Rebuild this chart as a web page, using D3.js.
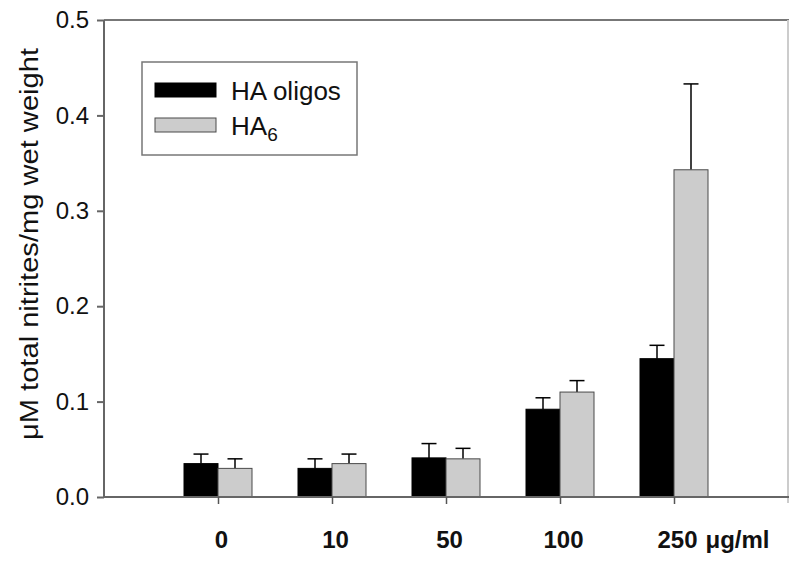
<!DOCTYPE html>
<html>
<head>
<meta charset="utf-8">
<script src="https://cdn.jsdelivr.net/npm/d3@7/dist/d3.min.js"></script>
<style>
  html, body { margin: 0; padding: 0; background: #fff; }
  svg { display: block; font-family: "Liberation Sans", Arial, Helvetica, sans-serif; }
</style>
</head>
<body>
<svg id="chart" width="800" height="564"></svg>
<script>
const categories = ["0", "10", "50", "100", "250"];
const seriesNames = ["HA oligos", "HA6"];
const haOligos = [0.035, 0.030, 0.041, 0.092, 0.145];
const haOligosErr = [0.010, 0.010, 0.015, 0.012, 0.014];
const ha6 = [0.030, 0.035, 0.040, 0.110, 0.343];
const ha6Err = [0.010, 0.010, 0.011, 0.012, 0.090];
const yTicks = [0.0, 0.1, 0.2, 0.3, 0.4, 0.5];
const xUnit = "μg/ml";
const yTitle = "μM total nitrites/mg wet weight";

const svg = d3.select("#chart");
const mLeft = 104, mRight = 788, mTop = 20, mBottom = 497;

const x = d3.scalePoint().domain(categories).range([mLeft, mRight]).padding(1);
const inner = d3.scaleBand().domain(seriesNames).range([-34, 34]);
const y = d3.scaleLinear().domain([0, 0.5]).range([mBottom, mTop]);

const fills = { "HA oligos": "#000000", "HA6": "#cccccc" };
const strokes = { "HA oligos": "#000000", "HA6": "#4a4a4a" };

// frame top/right
svg.append("line").attr("x1", mLeft).attr("x2", mRight + 1).attr("y1", mTop).attr("y2", mTop)
  .attr("stroke", "#777").attr("stroke-width", 2);
svg.append("line").attr("x1", mRight).attr("x2", mRight).attr("y1", mTop).attr("y2", mBottom + 6)
  .attr("stroke", "#ccc").attr("stroke-width", 2);

// data table built from arrays
const rows = categories.map((c, i) => ({
  cat: c,
  bars: [
    { s: "HA oligos", v: haOligos[i], e: haOligosErr[i] },
    { s: "HA6", v: ha6[i], e: ha6Err[i] }
  ]
}));

const g = svg.append("g");
const grp = g.selectAll("g.cat").data(rows).join("g")
  .attr("class", "cat")
  .attr("transform", d => `translate(${x(d.cat)},0)`);

// error bars (upward only)
grp.selectAll("g.err").data(d => d.bars).join("g").attr("class", "err").each(function(d) {
  const cx = inner(d.s) + inner.bandwidth() / 2;
  const sel = d3.select(this);
  sel.append("line").attr("x1", cx).attr("x2", cx).attr("y1", y(d.v)).attr("y2", y(d.v + d.e))
    .attr("stroke", "#000").attr("stroke-width", 1.5);
  sel.append("line").attr("x1", cx - 7.5).attr("x2", cx + 7.5).attr("y1", y(d.v + d.e)).attr("y2", y(d.v + d.e))
    .attr("stroke", "#000").attr("stroke-width", 1.5);
});

grp.selectAll("rect").data(d => d.bars).join("rect")
  .attr("x", d => inner(d.s))
  .attr("width", inner.bandwidth())
  .attr("y", d => y(d.v))
  .attr("height", d => y(0) - y(d.v))
  .attr("fill", d => fills[d.s])
  .attr("stroke", d => strokes[d.s])
  .attr("stroke-width", 1);

// y axis
const yAxis = svg.append("g").attr("transform", `translate(${mLeft},0)`)
  .call(d3.axisLeft(y).tickValues(yTicks).tickFormat(d3.format(".1f")).tickSize(7).tickPadding(8));
yAxis.select(".domain").attr("stroke", "#666").attr("stroke-width", 2)
  .attr("d", `M0,${mTop}V${mBottom}`);
yAxis.selectAll(".tick line").attr("stroke", "#666").attr("stroke-width", 2);
yAxis.selectAll(".tick text").attr("font-size", 24).attr("fill", "#111")
  .attr("font-family", "Liberation Sans, Arial, sans-serif");

// x axis
const xAxis = svg.append("g").attr("transform", `translate(0,${mBottom})`)
  .call(d3.axisBottom(x).tickSize(7).tickPadding(27));
xAxis.select(".domain").attr("stroke", "#666").attr("stroke-width", 2)
  .attr("d", `M${mLeft},0H${mRight + 1}`);
xAxis.selectAll(".tick line").attr("stroke", "#555").attr("stroke-width", 1.5);
xAxis.selectAll(".tick text").attr("font-size", 24).attr("font-weight", "bold").attr("fill", "#111")
  .attr("font-family", "Liberation Sans, Arial, sans-serif").attr("dx", 3);

// unit after last label
const lastTick = xAxis.selectAll(".tick").filter(d => d === categories[categories.length - 1]);
const lastText = lastTick.select("text");
const lw = lastText.node().getComputedTextLength();
lastTick.append("text")
  .attr("x", lw / 2 + 11).attr("y", lastText.attr("y")).attr("dy", lastText.attr("dy"))
  .attr("text-anchor", "start").attr("font-size", 24).attr("font-weight", "bold").attr("fill", "#111")
  .attr("font-family", "Liberation Sans, Arial, sans-serif")
  .text(xUnit);

// y title
svg.append("text")
  .attr("transform", `translate(38,${(47 + 441) / 2}) rotate(-90)`)
  .attr("text-anchor", "middle")
  .attr("font-size", 26).attr("fill", "#111")
  .attr("textLength", 392).attr("lengthAdjust", "spacingAndGlyphs")
  .text(yTitle);

// legend
const lg = svg.append("g");
lg.append("rect").attr("x", 142).attr("y", 62).attr("width", 215).attr("height", 93)
  .attr("fill", "#fff").attr("stroke", "#777").attr("stroke-width", 1.5);
seriesNames.forEach((s, i) => {
  const yy = 83 + i * 35;
  lg.append("rect").attr("x", 155).attr("y", yy).attr("width", 61).attr("height", 14)
    .attr("fill", fills[s]).attr("stroke", strokes[s]).attr("stroke-width", 1);
  const t = lg.append("text").attr("x", 231).attr("y", yy + 17).attr("font-size", 26).attr("fill", "#111");
  if (s === "HA6") {
    t.append("tspan").text("HA");
    t.append("tspan").attr("font-size", 19).attr("dy", 6).text("6");
  } else {
    t.text(s);
  }
});
</script>
</body>
</html>
